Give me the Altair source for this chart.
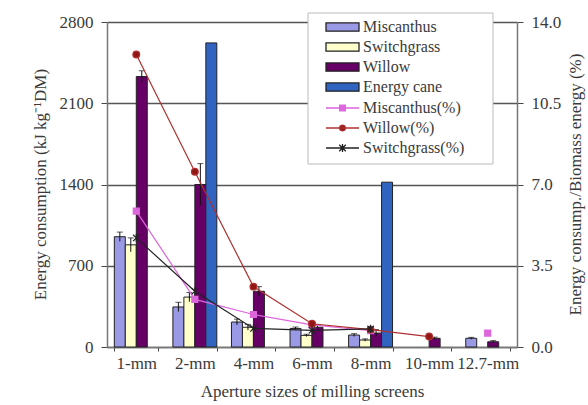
import altair as alt
import pandas as pd

# ---------------- data ----------------
categories = ["1-mm", "2-mm", "4-mm", "6-mm", "8-mm", "10-mm", "12.7-mm"]
bar_series = ["Miscanthus", "Switchgrass", "Willow", "Energy cane"]
miscanthus = [950, 345, 215, 160, 103, None, 75]
switchgrass = [880, 430, 170, 100, 60, None, None]
willow = [2330, 1400, 480, 170, 120, 75, 45]
energy_cane = [None, 2620, None, None, 1420, None, None]
miscanthus_err = [40, 40, 25, 12, 12, None, 8]
switchgrass_err = [60, 40, 25, 10, 10, None, None]
willow_err = [50, 180, 40, 20, 30, 10, 10]

pct_series = ["Miscanthus(%)", "Willow(%)", "Switchgrass(%)"]
miscanthus_pct = [5.85, 2.05, 1.4, 0.95, 0.7, None, 0.6]
willow_pct = [12.6, 7.55, 2.6, 1.0, 0.75, 0.45, None]
switchgrass_pct = [4.7, 2.4, 0.8, 0.72, 0.78, None, None]

left_ticks = [0, 700, 1400, 2100, 2800]
right_ticks = [0, 3.5, 7.0, 10.5, 14.0]

# ---------------- styling ----------------
FONT = "Liberation Serif"
TXT = "#3a3a3a"
bar_colors = ["#9999e6", "#ffffcc", "#660066", "#3064c0"]
pct_line_colors = ["#dd66dd", "#b03030", "#222222"]
pct_marker_colors = ["#dd66dd", "#901515", "#222222"]

# ---------------- tables ----------------
bar_rows = []
for s, vals, errs in [
    ("Miscanthus", miscanthus, miscanthus_err),
    ("Switchgrass", switchgrass, switchgrass_err),
    ("Willow", willow, willow_err),
    ("Energy cane", energy_cane, [None] * len(categories)),
]:
    for c, v, e in zip(categories, vals, errs):
        if v is None:
            continue
        row = {"cat": c, "series": s, "value": v}
        if e is not None:
            row["lo"] = v - e
            row["hi"] = v + e
        bar_rows.append(row)
bar_df = pd.DataFrame(bar_rows)
err_df = bar_df.dropna(subset=["hi"])

pct_rows = []
for s, vals in [
    ("Miscanthus(%)", miscanthus_pct),
    ("Willow(%)", willow_pct),
    ("Switchgrass(%)", switchgrass_pct),
]:
    seg = 0
    for c, v in zip(categories, vals):
        if v is None:
            seg += 1
            continue
        pct_rows.append({"cat": c, "pseries": s, "pct": v, "seg": f"{s}-{seg}"})
pct_df = pd.DataFrame(pct_rows)

# ---------------- encodings ----------------
x_enc = alt.X(
    "cat:N",
    sort=categories,
    scale=alt.Scale(domain=categories, paddingInner=0.25, paddingOuter=0.125),
    axis=alt.Axis(
        title="Aperture sizes of milling screens",
        labelAngle=0,
        tickBand="extent",
        tickSize=4,
        tickColor="#444444",
        domainColor="#777777",
        domainWidth=1.5,
        labelPadding=4,
        labelFont=FONT,
        labelFontSize=17,
        labelColor=TXT,
        titleFont=FONT,
        titleFontSize=17,
        titleFontWeight="normal",
        titleColor=TXT,
        titleY=44,
        titleBaseline="middle",
        grid=False,
    ),
)
xoff = alt.XOffset("series:N", sort=bar_series,
                   scale=alt.Scale(domain=bar_series, paddingInner=0, paddingOuter=0))

y_left_scale = alt.Scale(domain=[0, 2800], nice=False)
y_left_axis = alt.Axis(
    title="Energy consumption (kJ kg\u207b\u00b9DM)",
    values=left_ticks,
    format="d",
    grid=True,
    gridColor="#555555",
    gridWidth=1.3,
    tickSize=6,
    tickColor="#444444",
    domainColor="#777777",
    domainWidth=1.5,
    labelPadding=8,
    labelFont=FONT,
    labelFontSize=17,
    labelColor=TXT,
    titleFont=FONT,
    titleFontSize=17,
    titleFontWeight="normal",
    titleColor=TXT,
    titleAngle=270,
    titleX=-67,
    titleY=162,
    titleAlign="center",
    titleBaseline="middle",
)

y_right_scale = alt.Scale(domain=[0, 14], nice=False)
y_right_axis = alt.Axis(
    title="Energy consump./Biomass energy (%)",
    orient="right",
    values=right_ticks,
    format=".1f",
    grid=False,
    tickSize=6,
    tickColor="#444444",
    domainColor="#777777",
    domainWidth=1.5,
    labelPadding=8,
    labelFont=FONT,
    labelFontSize=17,
    labelColor=TXT,
    titleFont=FONT,
    titleFontSize=17,
    titleFontWeight="normal",
    titleColor=TXT,
    titleAngle=270,
    titleX=58,
    titleY=162,
    titleAlign="center",
    titleBaseline="middle",
)

# legend symbol shapes (unit square -1..1 scaled to sqrt(symbolSize))
P_RECT = "M-1,-0.25H1V0.25H-1Z"
P_SQ = "M-1,0H1M-0.17,-0.17H0.17V0.17H-0.17Z"
P_CI = "M-1,0H1M-0.18,0A0.18,0.18,0,1,1,0.18,0A0.18,0.18,0,1,1,-0.18,0Z"
P_AST = "M-1,0H1M-0.2,-0.2L0.2,0.2M-0.2,0.2L0.2,-0.2M0,-0.24V0.24"

common_legend = dict(
    title=None,
    orient="none",
    legendX=218,
    direction="vertical",
    symbolSize=1089,
    clipHeight=16,
    rowPadding=4,
    symbolOffset=0,
    labelOffset=3,
    padding=0,
    symbolStrokeWidth=1.3,
    labelFont=FONT,
    labelFontSize=16,
    labelColor=TXT,
    labelLimit=200,
)

bar_legend = alt.Legend(legendY=-3, symbolType=P_RECT, symbolStrokeColor="#222222",
                        **common_legend)
line_legend = alt.Legend(legendY=78, **common_legend)

# legend frame (decoration behind both legends)
frame = alt.Chart(pd.DataFrame({"k": [0]})).mark_rect(
    fill="white", stroke="#bbbbbb", strokeWidth=1
).encode(x=alt.value(201), x2=alt.value(386), y=alt.value(-9), y2=alt.value(142))

bars = alt.Chart(bar_df).mark_bar(stroke="#222222", strokeWidth=1).encode(
    x=x_enc,
    xOffset=xoff,
    y=alt.Y("value:Q", scale=y_left_scale, axis=y_left_axis),
    fill=alt.Fill("series:N", scale=alt.Scale(domain=bar_series, range=bar_colors),
                  legend=bar_legend),
)

err_rules = alt.Chart(err_df).mark_rule(color="#111111", strokeWidth=1).encode(
    x=x_enc,
    xOffset=xoff,
    y=alt.Y("lo:Q", scale=y_left_scale, axis=y_left_axis),
    y2="hi:Q",
)
err_caps = alt.Chart(err_df).mark_tick(color="#111111", size=6, thickness=1).encode(
    x=x_enc,
    xOffset=xoff,
    y=alt.Y("hi:Q", scale=y_left_scale, axis=y_left_axis),
)

# percentage lines + markers, one layer per series (constant styles)
marker_shapes = ["square", "circle", "M-1,-1L1,1M-1,1L1,-1M0,-1.3V1.3"]
marker_sizes = [36, 45, 40]
pct_layers = []
for s, lc, mc, shp, sz in zip(pct_series, pct_line_colors, pct_marker_colors,
                              marker_shapes, marker_sizes):
    base = alt.Chart(pct_df).transform_filter(alt.datum.pseries == s)
    pct_layers.append(
        base.mark_line(color=lc, strokeWidth=1.2).encode(
            x=x_enc,
            y=alt.Y("pct:Q", scale=y_right_scale, axis=y_right_axis),
            detail="seg:N",
        )
    )
    is_ast = shp.startswith("M")
    pct_layers.append(
        base.mark_point(
            shape=shp,
            filled=not is_ast,
            size=sz,
            color=mc,
            stroke=lc,
            strokeWidth=1.2,
            opacity=1,
        ).encode(
            x=x_enc,
            y=alt.Y("pct:Q", scale=y_right_scale, axis=y_right_axis),
        )
    )

# legend carrier for the percentage series (draws nothing)
carrier = alt.Chart(pct_df).transform_filter("false").mark_point(
    filled=True, strokeWidth=1.3, opacity=1
).encode(
    color=alt.Color("pseries:N", scale=alt.Scale(domain=pct_series, range=pct_marker_colors),
                    legend=line_legend),
    stroke=alt.Stroke("pseries:N", scale=alt.Scale(domain=pct_series, range=pct_line_colors),
                      legend=line_legend),
    shape=alt.Shape("pseries:N", scale=alt.Scale(domain=pct_series, range=[P_SQ, P_CI, P_AST]),
                    legend=line_legend),
)

left = alt.layer(frame, bars, err_rules, err_caps)
right = alt.layer(*pct_layers, carrier)

chart = (
    alt.layer(left, right)
    .resolve_scale(y="independent")
    .properties(
        width=410,
        height=325,
        padding={"left": 107, "top": 22, "right": 71, "bottom": 58},
        autosize="none",
        background="white",
    )
    .configure_view(strokeWidth=0)
)

chart.save("out.html", embed_options={"renderer": "svg", "actions": False})
